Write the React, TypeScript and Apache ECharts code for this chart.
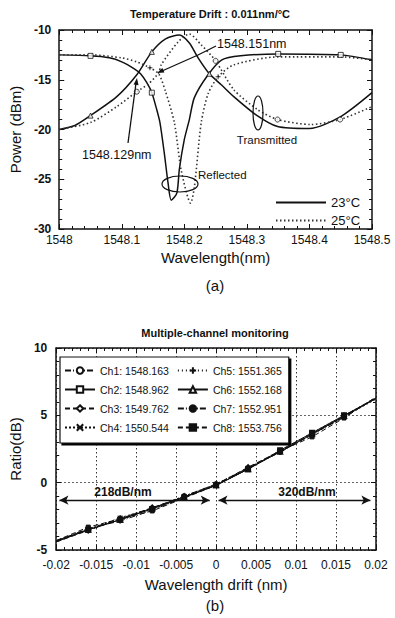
import React, { useEffect, useRef } from "react";
import * as echarts from "echarts";

// ---------- Chart (a) data ----------
const wlT23 = [1548.0, 1548.05, 1548.08, 1548.1, 1548.12, 1548.13, 1548.14, 1548.148, 1548.155, 1548.161, 1548.168, 1548.174, 1548.179, 1548.188, 1548.192, 1548.2, 1548.208, 1548.216, 1548.238, 1548.26, 1548.29, 1548.35, 1548.45, 1548.5];
const pT23 = [-12.5, -12.6, -12.8, -13.2, -13.9, -14.4, -15.3, -16.3, -17.8, -19.3, -22.4, -25.4, -27.1, -26.4, -24.0, -21.0, -19.0, -16.8, -14.5, -13.0, -12.6, -12.4, -12.5, -13.0];

const wlR23 = [1548.0, 1548.025, 1548.05, 1548.092, 1548.124, 1548.148, 1548.17, 1548.192, 1548.208, 1548.222, 1548.24, 1548.259, 1548.279, 1548.314, 1548.349, 1548.4, 1548.45, 1548.5];
const pR23 = [-20.0, -19.6, -18.6, -16.7, -14.5, -12.2, -10.9, -10.5, -11.3, -12.8, -14.4, -15.5, -16.7, -18.5, -19.7, -19.9, -18.7, -16.3];

const wlT25 = [1548.0, 1548.05, 1548.1, 1548.124, 1548.145, 1548.159, 1548.17, 1548.184, 1548.195, 1548.21, 1548.216, 1548.227, 1548.238, 1548.254, 1548.279, 1548.35, 1548.45, 1548.5];
const pT25 = [-12.5, -12.5, -12.8, -13.2, -13.8, -14.4, -16.2, -19.3, -24.1, -27.4, -25.8, -19.3, -16.4, -14.7, -13.5, -12.7, -12.7, -13.0];

const wlR25 = [1548.0, 1548.05, 1548.092, 1548.124, 1548.143, 1548.159, 1548.163, 1548.19, 1548.208, 1548.227, 1548.25, 1548.279, 1548.317, 1548.349, 1548.402, 1548.449, 1548.5];
const pR25 = [-20.0, -19.3, -17.7, -16.2, -15.4, -14.3, -13.5, -11.2, -10.4, -11.5, -13.1, -16.0, -18.0, -19.0, -19.5, -19.0, -17.7];

// marker positions (indices into the arrays above)
const markT23 = [1, 7, 21, 22];
const markR23 = [2, 5, 10];
const markT25 = [4, 13];
const markR25 = [3, 10, 13, 15];

const wlTicks = ["1548", "1548.1", "1548.2", "1548.3", "1548.4", "1548.5"];

// ---------- Chart (b) data ----------
const driftX = [-0.02, -0.016, -0.012, -0.008, -0.004, 0, 0.004, 0.008, 0.012, 0.016, 0.02];
const ch1 = [-4.35, -3.45, -2.65, -1.9, -1.0, -0.1, 1.05, 2.3, 3.6, 4.95, 6.3];
const ch2 = [-4.3, -3.5, -2.75, -1.95, -1.1, -0.2, 1.0, 2.4, 3.7, 5.0, 6.25];
const ch3 = [-4.4, -3.55, -2.7, -1.85, -1.05, -0.15, 1.15, 2.35, 3.65, 4.9, 6.35];
const ch4 = [-4.35, -3.5, -2.6, -1.9, -1.0, -0.1, 1.1, 2.3, 3.55, 4.9, 6.2];
const ch5 = [-4.3, -3.45, -2.7, -1.95, -1.1, -0.15, 1.05, 2.4, 3.7, 5.0, 6.3];
const ch6 = [-4.4, -3.5, -2.75, -1.9, -1.05, -0.2, 1.0, 2.3, 3.6, 4.95, 6.25];
const ch7 = [-4.35, -3.4, -2.85, -2.05, -1.1, -0.15, 1.1, 2.25, 3.6, 4.85, 6.3];
const ch8 = [-4.3, -3.3, -2.7, -2.1, -1.15, -0.2, 1.05, 2.35, 3.4, 4.8, 6.35];
const channelNames = ["Ch1: 1548.163", "Ch2: 1548.962", "Ch3: 1549.762", "Ch4: 1550.544", "Ch5: 1551.365", "Ch6: 1552.168", "Ch7: 1552.951", "Ch8: 1553.756"];

// slope arrows
const arrowY = -1.3;
const arrowLeft = [-0.0196, -0.0008];
const arrowRight = [0.0003, 0.0193];

const FONT = "Liberation Sans, Arial, sans-serif";
const INK = "#111";

const zip = (xs: number[], ys: number[]) => xs.map((x, i) => [x, ys[i]]);
const pick = (xs: number[], ys: number[], idx: number[]) => idx.map((i) => [xs[i], ys[i]]);

const X_SYM = "path://M0,0L10,10M10,0L0,10";
const PLUS_SYM = "path://M5,0L5,10M0,5L10,5";

function frameAxis(gridIndex: number, position: string, min: number, max: number, interval: number) {
  return {
    type: "value",
    gridIndex,
    position,
    min,
    max,
    interval,
    axisLine: { show: true, onZero: false, lineStyle: { color: INK, width: 1.5 } },
    axisTick: { show: true, inside: true, length: 5, lineStyle: { color: INK, width: 1 } },
    minorTick: { show: true, splitNumber: 5, length: 3, lineStyle: { color: INK, width: 1 } },
    axisLabel: { show: false },
    splitLine: { show: false },
  } as any;
}

export default function App() {
  const ref = useRef<HTMLDivElement>(null);

  useEffect(() => {
    if (!ref.current) return;
    const chart = echarts.init(ref.current, undefined, { renderer: "svg" });

    const chSeriesStyle = [
      { symbol: "emptyCircle", type: [6, 2, 1, 2] },
      { symbol: "emptyRect", type: "solid" },
      { symbol: "emptyDiamond", type: [5, 3] },
      { symbol: X_SYM, type: [2, 2] },
      { symbol: PLUS_SYM, type: [1, 3] },
      { symbol: "emptyTriangle", type: "solid" },
      { symbol: "circle", type: [6, 2, 1, 2] },
      { symbol: "rect", type: [5, 3] },
    ];
    const chData = [ch1, ch2, ch3, ch4, ch5, ch6, ch7, ch8];

    const chSeries = chData.map((vals, k) => ({
      name: channelNames[k],
      type: "line",
      xAxisIndex: 2,
      yAxisIndex: 2,
      data: driftX.map((x, i) =>
        i === 0 || i === driftX.length - 1 ? { value: [x, vals[i]], symbol: "none" } : [x, vals[i]]
      ),
      symbol: chSeriesStyle[k].symbol,
      symbolSize: 4,
      showAllSymbol: true,
      lineStyle: { color: INK, width: 1, type: chSeriesStyle[k].type as any },
      itemStyle: { color: INK, borderColor: INK, borderWidth: 1 },
      z: 3,
      ...(k === 0
        ? {
            markLine: {
              silent: true,
              symbol: ["arrow", "arrow"],
              symbolSize: [7, 9],
              lineStyle: { color: INK, type: "solid", width: 1.3 },
              label: { show: false },
              data: [
                [{ coord: [arrowLeft[0], arrowY] }, { coord: [arrowLeft[1], arrowY] }],
                [{ coord: [arrowRight[0], arrowY] }, { coord: [arrowRight[1], arrowY] }],
              ],
            },
          }
        : {}),
    }));

    const curveLine = (name: string, xs: number[], ys: number[], dotted: boolean) => ({
      name,
      type: "line",
      xAxisIndex: 0,
      yAxisIndex: 0,
      data: zip(xs, ys),
      symbol: "none",
      smooth: 0.25,
      lineStyle: { color: dotted ? "#333" : INK, width: dotted ? 1.6 : 1.5, type: dotted ? [1.5, 2.5] : "solid" },
      itemStyle: { color: INK },
      z: 3,
    });
    const markScatter = (name: string, data: number[][], symbol: string) => ({
      name,
      type: "scatter",
      xAxisIndex: 0,
      yAxisIndex: 0,
      data,
      symbol,
      symbolSize: 5,
      itemStyle: { color: "#fff", borderColor: INK, borderWidth: 1 },
      z: 4,
    });

    const arrowPoly = (tip: number[], from: number[]) => {
      const dx = tip[0] - from[0];
      const dy = tip[1] - from[1];
      const L = Math.hypot(dx, dy);
      const ux = dx / L, uy = dy / L;
      const bx = tip[0] - ux * 7, by = tip[1] - uy * 7;
      return [
        [tip[0], tip[1]],
        [bx - uy * 2.5, by + ux * 2.5],
        [bx + uy * 2.5, by - ux * 2.5],
      ];
    };

    const txt = (text: string, x: number, y: number, size: number, opts: any = {}) => ({
      type: "text",
      x,
      y,
      z: 10,
      style: {
        text,
        fill: INK,
        font: `${opts.bold ? "bold " : ""}${size}px ${FONT}`,
        align: opts.align || "center",
        verticalAlign: "middle",
      },
    });

    const option: any = {
      animation: false,
      backgroundColor: "#fff",
      textStyle: { fontFamily: FONT, color: INK },
      grid: [
        { left: 57, top: 30, width: 315, height: 199 },
        { left: 55, top: 348, width: 321, height: 202 },
      ],
      xAxis: [
        {
          ...frameAxis(0, "bottom", 1548, 1548.5, 0.1),
          axisLabel: {
            show: true,
            margin: 5,
            fontSize: 12,
            color: INK,
            formatter: (v: number) => wlTicks[Math.round((v - 1548) * 10)] ?? "",
          },
          name: "Wavelength(nm)",
          nameLocation: "middle",
          nameGap: 21,
          nameTextStyle: { fontSize: 15, color: INK },
        },
        frameAxis(0, "top", 1548, 1548.5, 0.1),
        {
          ...frameAxis(1, "bottom", -0.02, 0.02, 0.005),
          axisLabel: {
            show: true,
            margin: 9,
            fontSize: 12,
            color: INK,
            formatter: (v: number) => (Math.abs(v) < 1e-9 ? "0" : String(+v.toFixed(3))),
          },
          splitLine: { show: true, lineStyle: { color: "#333", type: [1.5, 2.5], width: 1 } },
          name: "Wavelength drift (nm)",
          nameLocation: "middle",
          nameGap: 27,
          nameTextStyle: { fontSize: 15, color: INK },
        },
        frameAxis(1, "top", -0.02, 0.02, 0.005),
      ],
      yAxis: [
        {
          ...frameAxis(0, "left", -30, -10, 5),
          axisLabel: { show: true, margin: 8, fontSize: 12, fontWeight: "bold", color: INK },
          name: "Power (dBm)",
          nameLocation: "middle",
          nameGap: 33,
          nameTextStyle: { fontSize: 15, color: INK },
        },
        frameAxis(0, "right", -30, -10, 5),
        {
          ...frameAxis(1, "left", -5, 10, 5),
          axisLabel: { show: true, margin: 9, fontSize: 12, fontWeight: "bold", color: INK },
          splitLine: { show: true, lineStyle: { color: "#333", type: [1.5, 2.5], width: 1 } },
          name: "Ratio(dB)",
          nameLocation: "middle",
          nameGap: 33,
          nameTextStyle: { fontSize: 15, color: INK },
        },
        frameAxis(1, "right", -5, 10, 5),
      ],
      legend: [
        {
          data: ["23°C", "25°C"],
          orient: "vertical",
          left: 275,
          top: 196,
          padding: 0,
          itemWidth: 50,
          itemHeight: 10,
          itemGap: 5,
          selectedMode: false,
          itemStyle: { opacity: 0 },
          textStyle: { fontSize: 13, color: INK, fontFamily: FONT },
        },
        {
          data: channelNames.map((n, i) => (i < 4 ? { name: n, textStyle: { width: 86 } } : { name: n })),
          orient: "vertical",
          left: 60,
          top: 357,
          height: 76,
          padding: [8, 7, 10, 4],
          itemWidth: 30,
          itemHeight: 8,
          itemGap: 8,
          selectedMode: false,
          backgroundColor: "#fff",
          borderColor: INK,
          borderWidth: 1.2,
          borderRadius: 0,
          shadowColor: "#000",
          shadowOffsetX: 2,
          shadowOffsetY: 2,
          shadowBlur: 0.01,
          z: 6,
          textStyle: { fontSize: 10.5, color: INK, fontFamily: FONT },
        },
      ],
      graphic: [
        txt("Temperature Drift : 0.011nm/°C", 210, 14, 11, { bold: true }),
        txt("(a)", 215, 285, 15),
        txt("Multiple-channel monitoring", 215, 333, 11, { bold: true }),
        txt("(b)", 215, 605, 15),
        // annotations (a)
        { type: "ellipse", z: 10, shape: { cx: 258, cy: 113, rx: 5, ry: 17 }, style: { fill: "none", stroke: INK, lineWidth: 1.2 } },
        { type: "ellipse", z: 10, shape: { cx: 180, cy: 184, rx: 18, ry: 8 }, style: { fill: "none", stroke: INK, lineWidth: 1.2 } },
        txt("Transmitted", 267, 140, 11.5),
        txt("Reflected", 198, 175, 11.5, { align: "left" }),
        txt("1548.151nm", 217, 44, 12.5, { align: "left" }),
        { type: "polyline", z: 10, shape: { points: [[216, 46], [198, 55], [162, 71]] }, style: { fill: "none", stroke: INK, lineWidth: 1.3 } },
        { type: "polygon", z: 10, shape: { points: arrowPoly([157, 73], [198, 55]) }, style: { fill: INK } },
        txt("1548.129nm", 82, 155, 12.5, { align: "left" }),
        { type: "line", z: 10, shape: { x1: 128, y1: 143, x2: 136, y2: 83 }, style: { stroke: INK, lineWidth: 1.3 } },
        { type: "polygon", z: 10, shape: { points: arrowPoly([137, 78], [128, 143]) }, style: { fill: INK } },
        txt("218dB/nm", 123, 492, 12, { bold: true }),
        txt("320dB/nm", 307, 492, 12, { bold: true }),
      ],
      series: [
        curveLine("23°C", wlT23, pT23, false),
        curveLine("23°C", wlR23, pR23, false),
        curveLine("25°C", wlT25, pT25, true),
        curveLine("25°C", wlR25, pR25, true),
        markScatter("mT23", pick(wlT23, pT23, markT23), "rect"),
        markScatter("mR23", pick(wlR23, pR23, markR23), "triangle"),
        markScatter("mT25", pick(wlT25, pT25, markT25), PLUS_SYM),
        markScatter("mR25", pick(wlR25, pR25, markR25), "circle"),
        ...chSeries,
      ],
    };

    chart.setOption(option);
    return () => chart.dispose();
  }, []);

  return (
    <div
      ref={ref}
      style={{ position: "fixed", left: 0, top: 0, width: 395, height: 618, background: "#fff" }}
    />
  );
}
